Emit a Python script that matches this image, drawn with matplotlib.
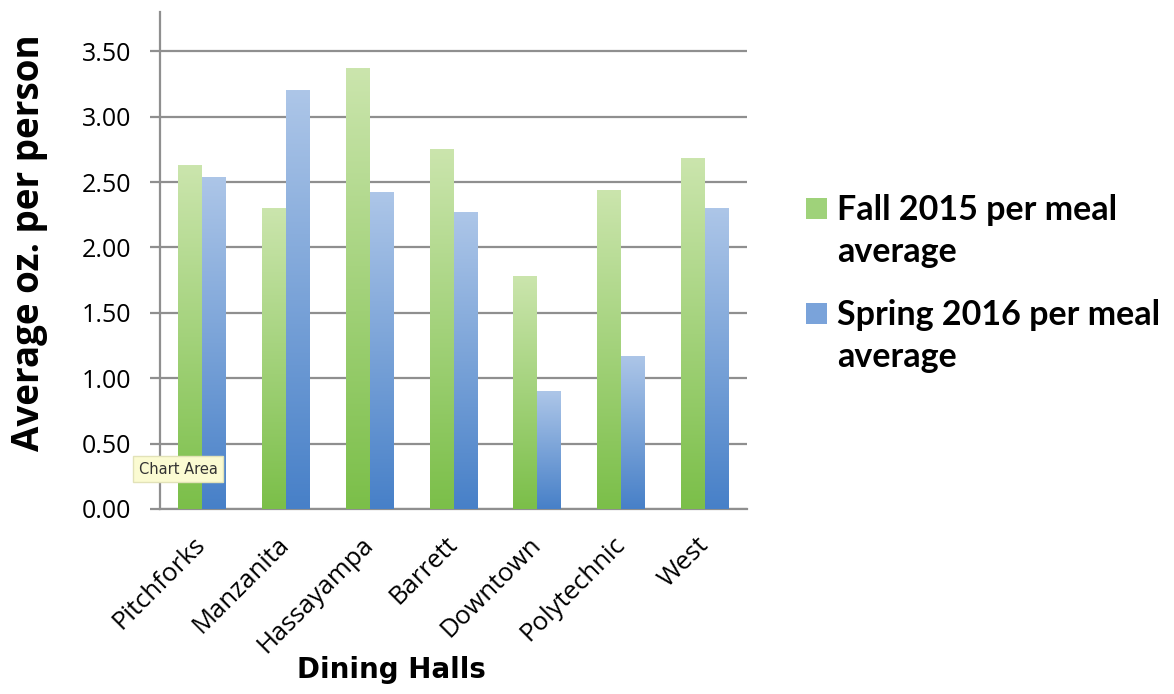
import numpy as np
import matplotlib.pyplot as plt
from matplotlib.colors import LinearSegmentedColormap
from matplotlib.patches import Patch, Rectangle
from matplotlib.legend_handler import HandlerPatch

halls = ['Pitchforks', 'Manzanita', 'Hassayampa', 'Barrett', 'Downtown', 'Polytechnic', 'West']
fall_2015 = [2.63, 2.30, 3.37, 2.75, 1.78, 2.44, 2.68]
spring_2016 = [2.54, 3.20, 2.42, 2.27, 0.90, 1.17, 2.30]
yticks = [0.0, 0.5, 1.0, 1.5, 2.0, 2.5, 3.0, 3.5]

green_cm = LinearSegmentedColormap.from_list('g', ['#7bbf49', '#cbe5ad'])
blue_cm = LinearSegmentedColormap.from_list('b', ['#4780c8', '#adc6e8'])
grid_col = '#8f8f8f'

fig = plt.figure(figsize=(11.74, 6.94), dpi=100)
ax = fig.add_axes([160 / 1174, 1 - 509 / 694, 587 / 1174, 497 / 694])

x = np.arange(len(halls))
w = 0.286
grad = np.linspace(0, 1, 256).reshape(-1, 1)

for vals, off, cm in [(fall_2015, -w / 2, green_cm), (spring_2016, w / 2, blue_cm)]:
    bars = ax.bar(x + off, vals, w, color='none', edgecolor='none', zorder=3)
    for b in bars:
        im = ax.imshow(grad, cmap=cm, aspect='auto', origin='lower', zorder=3,
                       extent=[b.get_x(), b.get_x() + b.get_width(), 0, b.get_height()])
        im.set_clip_path(b)

ax.set_xlim(-0.5, len(halls) - 0.5)
ax.set_ylim(0, 3.8)
ax.set_yticks(yticks)
ax.set_yticklabels(['%.2f' % v for v in yticks])
ax.yaxis.grid(True, color=grid_col, linewidth=1.6, zorder=0)
ax.set_axisbelow(True)

for s in ['top', 'right']:
    ax.spines[s].set_visible(False)
ax.spines['left'].set_color(grid_col)
ax.spines['left'].set_linewidth(1.6)
ax.spines['bottom'].set_color(grid_col)
ax.spines['bottom'].set_linewidth(1.6)

ax.tick_params(axis='y', length=7, width=1.6, color=grid_col, pad=14,
               labelsize=18)
ax.tick_params(axis='x', length=0, pad=23, labelsize=18.5)
for lab in ax.yaxis.get_ticklabels():
    lab.set_fontfamily('Open Sans')
ax.set_xticks(x)
ax.set_xticklabels(halls, rotation=45, ha='right', va='center',
                   rotation_mode='anchor', fontfamily='Open Sans')

ax.set_ylabel('Average oz. per person', fontsize=26.5, fontweight='bold',
              fontfamily='Open Sans')
ax.yaxis.set_label_coords(-0.19, 0.535)
ax.set_xlabel('Dining Halls', fontsize=20, fontweight='bold', fontfamily='DejaVu Sans')
ax.xaxis.set_label_coords(0.395, -0.295)


def top_square(legend, orig_handle, xdescent, ydescent, width, height, fontsize):
    # put the swatch beside the first line of a two-line label
    return Rectangle((-xdescent, -ydescent + 17), width, height)


handles = [Patch(facecolor='#9fd27a'), Patch(facecolor='#7aa3da')]
leg = fig.legend(handles, ['Fall 2015 per meal\naverage', 'Spring 2016 per meal\naverage'],
                 loc='upper left', bbox_to_anchor=(806 / 1174, 1 - 194 / 694),
                 frameon=False, prop={'family': 'Lato', 'weight': 'bold', 'size': 24.5},
                 handlelength=0.62, handleheight=0.55, handletextpad=0.3,
                 labelspacing=0.9, borderpad=0, borderaxespad=0,
                 handler_map={Patch: HandlerPatch(patch_func=top_square)})
for t in leg.get_texts():
    t.set_linespacing(1.4)

fig.text(178 / 1174, 1 - 469 / 694, 'Chart Area', fontsize=10.5, ha='center', va='center',
         color='#333333',
         bbox=dict(boxstyle='square,pad=0.35', facecolor='#fbfbd2', edgecolor='#e2e2b8'))

fig.savefig('out.png', dpi=100)
